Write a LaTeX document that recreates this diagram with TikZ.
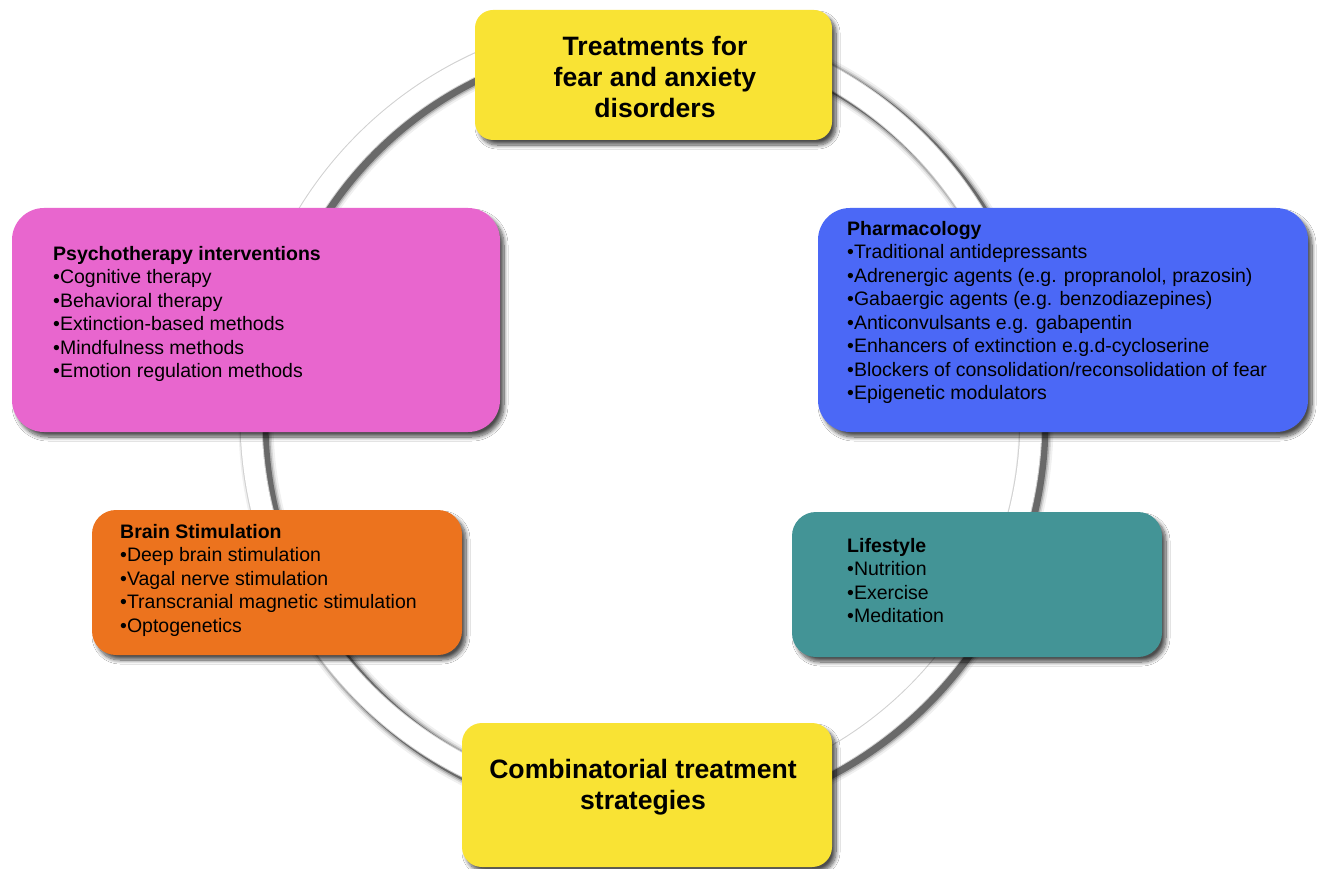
\documentclass[tikz,border=0pt]{standalone}
\usepackage{fontspec}
\setmainfont{Liberation Sans}
\usetikzlibrary{shadows.blur}
\definecolor{ybox}{RGB}{249,227,52}
\definecolor{pbox}{RGB}{232,102,206}
\definecolor{bbox}{RGB}{75,104,246}
\definecolor{obox}{RGB}{236,115,30}
\definecolor{tbox}{RGB}{67,148,150}
\begin{document}
\begin{tikzpicture}[x=1pt,y=-1pt,
  box/.style={inner sep=0pt, draw=none,
    blur shadow={shadow xshift=4pt, shadow yshift=-5pt, shadow blur radius=4pt, shadow blur steps=10, shadow opacity=70}},
  txt/.style={anchor=north west, inner sep=0pt, align=left, font=\fontsize{19.5}{23.5}\selectfont},
  ttl/.style={anchor=center, inner sep=0pt, align=center, font=\fontsize{26.6}{31}\selectfont\bfseries}]
\fill[white] (0,0) rectangle (1318,869);
\useasboundingbox (0,0) rectangle (1318,869);
% ring
\coordinate (c) at (641,418);
\coordinate (cs) at (646,422);
\foreach \w/\o in {35/0.06, 31/0.1, 28/0.18, 25/0.4}
  \draw[line width=\w pt, black, opacity=\o] (cs) circle[radius=390];
\draw[line width=23pt, black!18] (c) circle[radius=390];
\draw[line width=21pt, white] (c) circle[radius=390];
% boxes
\node[box, fill=ybox, rounded corners=18pt, minimum width=357pt, minimum height=130pt] (top) at (653.5,75) {};
\node[box, fill=pbox, rounded corners=32pt, minimum width=488pt, minimum height=224pt] (psy) at (256,320) {};
\node[box, fill=bbox, rounded corners=32pt, minimum width=490pt, minimum height=224pt] (pha) at (1063,320) {};
\node[box, fill=obox, rounded corners=24pt, minimum width=370pt, minimum height=145pt] (bra) at (277,582.5) {};
\node[box, fill=tbox, rounded corners=24pt, minimum width=370pt, minimum height=145pt] (lif) at (977,584.5) {};
\node[box, fill=ybox, rounded corners=20pt, minimum width=370pt, minimum height=144pt] (com) at (647,795) {};
% texts
\node[ttl] (ttop) at (655,77) {Treatments for\\fear and anxiety\\disorders};
\node[ttl] (tcom) at (643,787) {Combinatorial treatment\\strategies};
\node[txt] (tpsy) at (53,246) {\textbf{Psychotherapy interventions}\\•Cognitive therapy\\•Behavioral therapy\\•Extinction-based methods\\•Mindfulness methods\\•Emotion regulation methods};
\node[txt] (tpha) at (847,221) {\textbf{Pharmacology}\\•Traditional antidepressants\\•Adrenergic agents (e.g. propranolol, prazosin)\\•Gabaergic agents (e.g. benzodiazepines)\\•Anticonvulsants e.g. gabapentin\\•Enhancers of extinction e.g.d-cycloserine\\•Blockers of consolidation/reconsolidation of fear\\•Epigenetic modulators};
\node[txt] (tbra) at (120,524) {\textbf{Brain Stimulation}\\•Deep brain stimulation\\•Vagal nerve stimulation\\•Transcranial magnetic stimulation\\•Optogenetics};
\node[txt] (tlif) at (847,538) {\textbf{Lifestyle}\\•Nutrition\\•Exercise\\•Meditation};
\end{tikzpicture}
\end{document}
